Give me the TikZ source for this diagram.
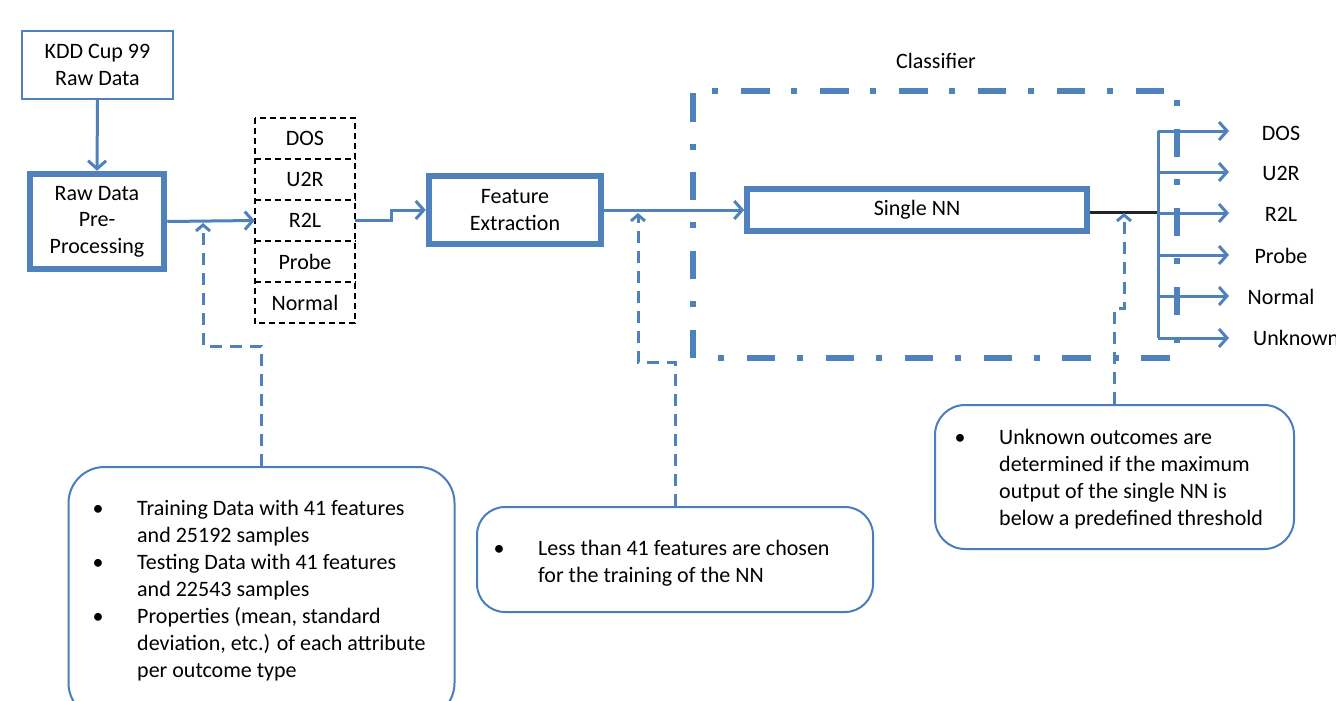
\documentclass[tikz,border=0pt]{standalone}
\usepackage{fontspec}
\setmainfont{Carlito}
\usetikzlibrary{arrows.meta}
\definecolor{myblue}{HTML}{4F81BD}
\definecolor{bubblue}{HTML}{4A7EBB}
\definecolor{darkline}{HTML}{202428}
\tikzset{
  txt/.style={font=\fontsize{22}{26.5}\selectfont, inner sep=0pt, align=center},
  thinbox/.style={txt, draw=myblue, line width=2pt},
  thickbox/.style={txt, draw=myblue, line width=6.5pt},
  stackcell/.style={txt, minimum width=100pt, minimum height=41pt},
  stackline/.style={draw=black, line width=1.6pt, dash pattern=on 6pt off 4pt},
  arr/.style={draw=myblue, line width=3pt, -{Straight Barb[length=8pt,width=18pt]}},
  plainline/.style={draw=myblue, line width=3pt},
  callout/.style={draw=myblue, line width=3pt, dash pattern=on 12pt off 8pt, -{Straight Barb[length=6pt,width=14pt]}},
  bubble/.style={draw=bubblue, line width=2pt, rounded corners=#1, fill=white},
  bubtext/.style={font=\fontsize{22}{27}\selectfont, inner sep=0pt, anchor=base west},
  grp/.style={draw=myblue, line width=6pt},
  outlabel/.style={txt}
}
\begin{document}
\begin{tikzpicture}[x=1pt,y=-1pt]
\useasboundingbox (0,0) rectangle (1336,701);

% main nodes
\node[thinbox, minimum width=151pt, minimum height=68pt] (kdd) at (97.5,65) {KDD Cup 99\\Raw Data};
\node[thickbox, minimum width=134pt, minimum height=95pt] (raw) at (97,221.5) {Raw Data\\Pre-\\Processing};

% stack
\node[stackcell] (dos) at (305,138.5) {DOS};
\node[stackcell] (u2r) at (305,179.5) {U2R};
\node[stackcell] (r2l) at (305,220.5) {R2L};
\node[stackcell] (probe) at (305,261.5) {Probe};
\node[stackcell] (normal) at (305,302.5) {Normal};
\draw[stackline] (dos.north west) rectangle (normal.south east);
\draw[stackline] (dos.south west) -- (dos.south east);
\draw[stackline] (u2r.south west) -- (u2r.south east);
\draw[stackline] (r2l.south west) -- (r2l.south east);
\draw[stackline] (probe.south west) -- (probe.south east);

\node[thickbox, minimum width=172pt, minimum height=68pt] (fe) at (515,210) {Feature\\Extraction};
\node[thickbox, line width=5.5pt, minimum width=340pt, minimum height=42pt] (nn) at (917,210) {Single NN};

\node[txt] (cls) at (936,61) {Classifier};

% classifier group (dash-dot)
\draw[grp, dash pattern=on 6pt off 22.8pt on 28.5pt off 21.6pt] (712.4,91) -- (1166,91);
\draw[grp, dash pattern=on 28.5pt off 22pt on 6pt off 22.4pt] (692.6,93) -- (692.6,358);
\draw[grp, dash pattern=on 6pt off 22.8pt on 28.5pt off 21.6pt] (718,357.7) -- (1170,357.7);
\draw[grp, dash pattern=on 6pt off 22.5pt on 28.5pt off 22pt] (1176.5,100) -- (1176.5,344);

% connectors
\draw[arr] (kdd.south) -- (raw.north);
\draw[arr] (raw.east) -- (r2l.west);
\draw[arr] (r2l.east) -- ++(36,0) |- (fe.west);
\draw[arr] (fe.east) -- (nn.west);

% outputs
\coordinate (br) at (1158,212);
\coordinate (o1) at (1158,131);
\coordinate (o2) at (1158,172);
\coordinate (o3) at (1158,213);
\coordinate (o4) at (1158,255);
\coordinate (o5) at (1158,296);
\coordinate (o6) at (1158,338);
\coordinate (a1) at (1229,131);
\coordinate (a2) at (1229,172);
\coordinate (a3) at (1229,213);
\coordinate (a4) at (1229,255);
\coordinate (a5) at (1229,296);
\coordinate (a6) at (1229,338);
\draw[darkline, line width=3pt] (nn.east |- br) -- (br);
\draw[plainline] (o1) -- (o6);
\foreach \i in {1,...,6} { \draw[arr] (o\i) -- (a\i); }

\node[outlabel] (l1) at (1281,133) {DOS};
\node[outlabel] (l2) at (1281,173) {U2R};
\node[outlabel] (l3) at (1281,214) {R2L};
\node[outlabel] (l4) at (1281,256) {Probe};
\node[outlabel] (l5) at (1281,297) {Normal};
\node[outlabel, anchor=west] (l6) at (1253,338) {Unknown};

% bubbles
\node[bubble=36pt, minimum width=386pt, minimum height=252pt] (b1) at (261.5,593) {};
\node[bubble=28pt, minimum width=396pt, minimum height=105pt] (b2) at (675,559.5) {};
\node[bubble=30pt, minimum width=359pt, minimum height=144pt] (b3) at (1114.5,477) {};

\node[bubtext] (t1) at (98,515) {\begin{tabular}[t]{@{}l@{}}
\makebox[0pt]{\textbullet}\hspace{39pt}Training Data with 41 features\\
\hspace{39pt}and 25192 samples\\
\makebox[0pt]{\textbullet}\hspace{39pt}Testing Data with 41 features\\
\hspace{39pt}and 22543 samples\\
\makebox[0pt]{\textbullet}\hspace{39pt}Properties (mean, standard\\
\hspace{39pt}deviation, etc.) of each attribute\\
\hspace{39pt}per outcome type
\end{tabular}};
\node[bubtext] (t2) at (499,555) {\begin{tabular}[t]{@{}l@{}}
\makebox[0pt]{\textbullet}\hspace{39pt}Less than 41 features are chosen\\
\hspace{39pt}for the training of the NN
\end{tabular}};
\node[bubtext] (t3) at (960,444) {\begin{tabular}[t]{@{}l@{}}
\makebox[0pt]{\textbullet}\hspace{39pt}Unknown outcomes are\\
\hspace{39pt}determined if the maximum\\
\hspace{39pt}output of the single NN is\\
\hspace{39pt}below a predefined threshold
\end{tabular}};

% callout connectors
\coordinate (j1) at (203,346);
\coordinate (c1) at (203,223);
\coordinate (j2) at (638,362);
\coordinate (c2) at (638,213);
\coordinate (j3) at (1124,308);
\coordinate (c3) at (1124,213);
\draw[callout] (b1.north) |- (j1) -- (c1);
\draw[callout] (b2.north) |- (j2) -- (c2);
\draw[callout] (b3.north) |- (j3) -- (c3);
\end{tikzpicture}
\end{document}
